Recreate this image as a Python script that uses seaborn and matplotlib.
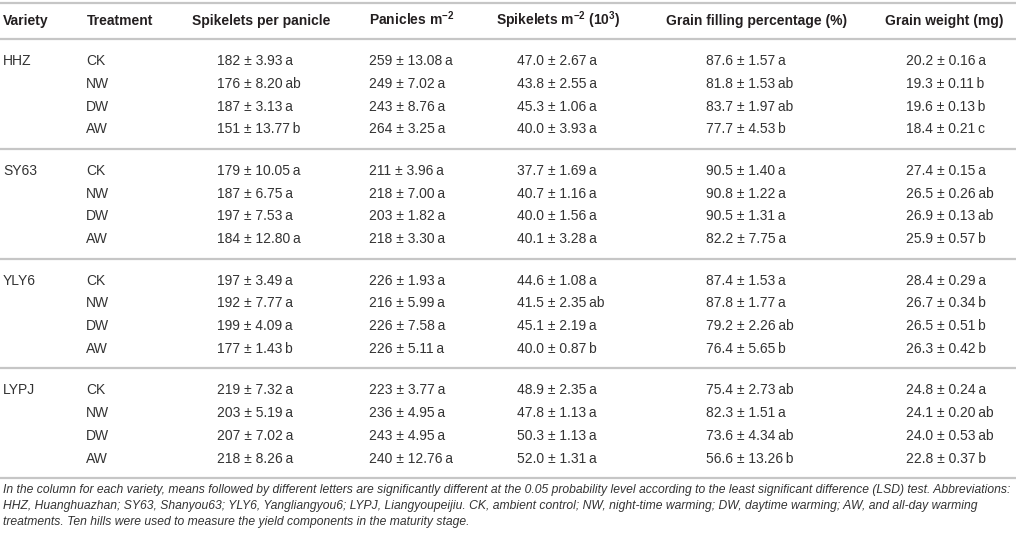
import matplotlib
matplotlib.use("Agg")
import matplotlib.pyplot as plt
import seaborn as sns
from matplotlib import font_manager

# ---------------- data ----------------
varieties = ["HHZ", "SY63", "YLY6", "LYPJ"]
treatments = ["CK", "NW", "DW", "AW"]

columns = ["Variety", "Treatment", "Spikelets per panicle", r"Panicles m$^{\mathbf{-2}}$",
           r"Spikelets m$^{\mathbf{-2}}$ (10$^{\mathbf{3}}$)", "Grain filling percentage (%)",
           "Grain weight (mg)"]

spp_mean = [["182", "176", "187", "151"], ["179", "187", "197", "184"],
            ["197", "192", "199", "177"], ["219", "203", "207", "218"]]
spp_sd = [["3.93", "8.20", "3.13", "13.77"], ["10.05", "6.75", "7.53", "12.80"],
          ["3.49", "7.77", "4.09", "1.43"], ["7.32", "5.19", "7.02", "8.26"]]
spp_sig = [["a", "ab", "a", "b"], ["a", "a", "a", "a"], ["a", "a", "a", "b"], ["a", "a", "a", "a"]]

pan_mean = [["259", "249", "243", "264"], ["211", "218", "203", "218"],
            ["226", "216", "226", "226"], ["223", "236", "243", "240"]]
pan_sd = [["13.08", "7.02", "8.76", "3.25"], ["3.96", "7.00", "1.82", "3.30"],
          ["1.93", "5.99", "7.58", "5.11"], ["3.77", "4.95", "4.95", "12.76"]]
pan_sig = [["a", "a", "a", "a"], ["a", "a", "a", "a"], ["a", "a", "a", "a"], ["a", "a", "a", "a"]]

spm_mean = [["47.0", "43.8", "45.3", "40.0"], ["37.7", "40.7", "40.0", "40.1"],
            ["44.6", "41.5", "45.1", "40.0"], ["48.9", "47.8", "50.3", "52.0"]]
spm_sd = [["2.67", "2.55", "1.06", "3.93"], ["1.69", "1.16", "1.56", "3.28"],
          ["1.08", "2.35", "2.19", "0.87"], ["2.35", "1.13", "1.13", "1.31"]]
spm_sig = [["a", "a", "a", "a"], ["a", "a", "a", "a"], ["a", "ab", "a", "b"], ["a", "a", "a", "a"]]

gf_mean = [["87.6", "81.8", "83.7", "77.7"], ["90.5", "90.8", "90.5", "82.2"],
           ["87.4", "87.8", "79.2", "76.4"], ["75.4", "82.3", "73.6", "56.6"]]
gf_sd = [["1.57", "1.53", "1.97", "4.53"], ["1.40", "1.22", "1.31", "7.75"],
         ["1.53", "1.77", "2.26", "5.65"], ["2.73", "1.51", "4.34", "13.26"]]
gf_sig = [["a", "ab", "ab", "b"], ["a", "a", "a", "a"], ["a", "a", "ab", "b"], ["ab", "a", "ab", "b"]]

gw_mean = [["20.2", "19.3", "19.6", "18.4"], ["27.4", "26.5", "26.9", "25.9"],
           ["28.4", "26.7", "26.5", "26.3"], ["24.8", "24.1", "24.0", "22.8"]]
gw_sd = [["0.16", "0.11", "0.13", "0.21"], ["0.15", "0.26", "0.13", "0.57"],
         ["0.29", "0.34", "0.51", "0.42"], ["0.24", "0.20", "0.53", "0.37"]]
gw_sig = [["a", "b", "b", "c"], ["a", "ab", "ab", "b"], ["a", "b", "b", "b"], ["a", "ab", "ab", "b"]]

footnote_lines = [
    "In the column for each variety, means followed by different letters are significantly different at the 0.05 probability level according to the least significant difference (LSD) test. Abbreviations:",
    "HHZ, Huanghuazhan; SY63, Shanyou63; YLY6, Yangliangyou6; LYPJ, Liangyoupeijiu. CK, ambient control; NW, night-time warming; DW, daytime warming; AW, and all-day warming",
    "treatments. Ten hills were used to measure the yield components in the maturity stage.",
]

# ---------------- style ----------------
sns.set_theme(style="white")
available = {f.name for f in font_manager.fontManager.ttflist}
main_font = "Liberation Sans" if "Liberation Sans" in available else "DejaVu Sans"
note_font = "Liberation Sans Narrow" if "Liberation Sans Narrow" in available else main_font
plt.rcParams["font.family"] = [main_font, "DejaVu Sans"]
plt.rcParams["mathtext.fontset"] = "custom"
plt.rcParams["mathtext.rm"] = main_font
plt.rcParams["mathtext.bf"] = main_font + ":bold"
plt.rcParams["mathtext.it"] = main_font + ":italic"

W, H = 1016, 538
fig = plt.figure(figsize=(W / 100, H / 100), dpi=100)
ax = fig.add_axes([0, 0, 1, 1])
ax.set_xlim(0, W)
ax.set_ylim(H, 0)
ax.axis("off")

header_color = "#231f20"
text_color = "#333333"
line_color = "#c6c6c6"
fs = 10.0
cap_half = 5.0  # half of cap height in px for baseline placement

col_x_header = [3, 87, 191.5, 369, 496.5, 666, 885]
col_x_data = [3, 86, 217, 369, 517, 706, 906]

# top line and header
ax.plot([0, W], [2.5, 2.5], color=line_color, lw=1.6, solid_capstyle="butt")
for x, lab in zip(col_x_header, columns):
    ax.text(x, 20 + cap_half, lab, fontsize=fs, fontweight="bold", color=header_color,
            ha="left", va="baseline")

line0 = 39.0
group_h = 109.8
ax.plot([0, W], [line0, line0], color=line_color, lw=1.6, solid_capstyle="butt")

metrics = [(spp_mean, spp_sd, spp_sig), (pan_mean, pan_sd, pan_sig), (spm_mean, spm_sd, spm_sig),
           (gf_mean, gf_sd, gf_sig), (gw_mean, gw_sd, gw_sig)]

for g, var in enumerate(varieties):
    top = line0 + g * group_h
    for i, tr in enumerate(treatments):
        y = top + 21 + i * 22.8 + cap_half
        if i == 0:
            ax.text(col_x_data[0], y, var, fontsize=fs, color=text_color, ha="left", va="baseline")
        ax.text(col_x_data[1], y, tr, fontsize=fs, color=text_color, ha="left", va="baseline")
        for k, (m, s, sig) in enumerate(metrics):
            label = f"{m[g][i]} \u00b1 {s[g][i]}\u2009{sig[g][i]}"
            ax.text(col_x_data[2 + k], y, label, fontsize=fs, color=text_color,
                    ha="left", va="baseline")
    bottom = top + group_h
    ax.plot([0, W], [bottom, bottom], color=line_color, lw=1.6, solid_capstyle="butt")

# footnote, sized to span the width like the reference
fig.canvas.draw()
renderer = fig.canvas.get_renderer()
probe = ax.text(0, 0, footnote_lines[0], fontsize=10, fontstyle="italic",
                family=[note_font, "DejaVu Sans"])
wpx = probe.get_window_extent(renderer=renderer).width
probe.remove()
note_fs = 10 * (1009.0 / wpx)
note_y = [488.5, 505.0, 521.5]
for y, t in zip(note_y, footnote_lines):
    ax.text(3, y + 4.0, t, fontsize=note_fs, fontstyle="italic", color=text_color,
            family=[note_font, "DejaVu Sans"], ha="left", va="baseline")

fig.savefig("out.png", dpi=100, facecolor="white")
